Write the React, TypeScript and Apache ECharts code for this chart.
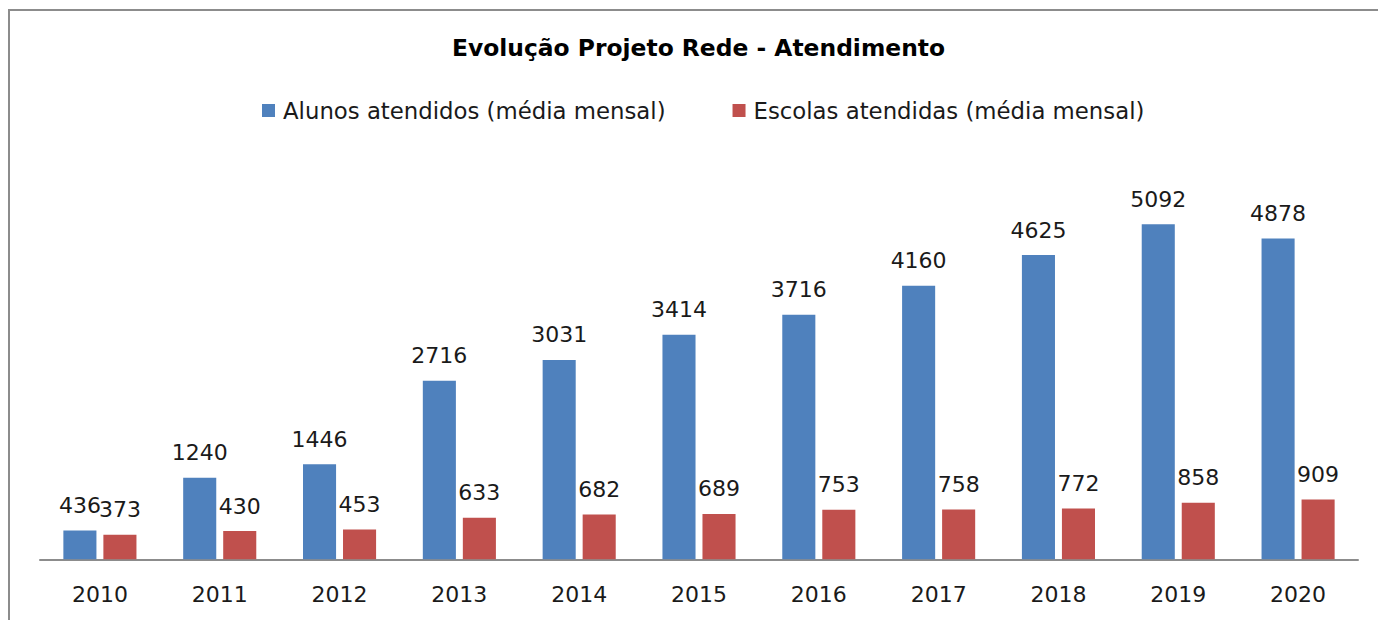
import React, { useEffect, useRef } from "react";
import * as echarts from "echarts";

const years = ["2010", "2011", "2012", "2013", "2014", "2015", "2016", "2017", "2018", "2019", "2020"];
const alunos = [436, 1240, 1446, 2716, 3031, 3414, 3716, 4160, 4625, 5092, 4878];
const escolas = [373, 430, 453, 633, 682, 689, 753, 758, 772, 858, 909];
const seriesNames = ["Alunos atendidos (média mensal)", "Escolas atendidas (média mensal)"];
const titleText = "Evolução Projeto Rede - Atendimento";

const FONT = "'DejaVu Sans', sans-serif";

export default function App() {
  const ref = useRef<HTMLDivElement>(null);
  useEffect(() => {
    if (!ref.current) return;
    const chart = echarts.init(ref.current, null, { renderer: "svg" });
    const labelStyle = {
      show: true,
      position: "top" as const,
      distance: 14,
      fontFamily: FONT,
      fontSize: 22,
      color: "#1a1a1a",
    };
    chart.setOption({
      animation: false,
      backgroundColor: "#ffffff",
      title: {
        text: titleText,
        left: 447,
        top: 31.5,
        textStyle: { fontFamily: FONT, fontWeight: "bold", fontSize: 23.4, color: "#000" },
      },
      legend: {
        top: 94,
        left: 257,
        itemWidth: 13,
        itemHeight: 13,
        itemGap: 67,
        icon: "rect",
        textStyle: { fontFamily: FONT, fontSize: 22.8, color: "#1a1a1a", padding: [0, 0, 0, 3] },
        data: seriesNames,
      },
      graphic: [
        {
          type: "rect",
          shape: { x: 9, y: 10, width: 1400, height: 700 },
          style: { fill: "none", stroke: "#8c8c8c", lineWidth: 2 },
          silent: true,
          z: 100,
        },
      ],
      grid: { left: 40, right: 20, top: 164.6, bottom: 60.7 },
      xAxis: {
        type: "category",
        data: years,
        axisLine: { show: true, lineStyle: { color: "#8c8c8c", width: 2 } },
        axisTick: { show: false },
        axisLabel: { fontFamily: FONT, fontSize: 22, color: "#1a1a1a", margin: 24 },
      },
      yAxis: {
        type: "value",
        min: 0,
        max: 6000,
        interval: 1000,
        show: false,
        splitLine: { show: false },
      },
      series: [
        {
          name: seriesNames[0],
          type: "bar",
          data: alunos,
          barGap: "21%",
          barCategoryGap: "39%",
          itemStyle: { color: "#4F81BD" },
          label: labelStyle,
        },
        {
          name: seriesNames[1],
          type: "bar",
          data: escolas,
          itemStyle: { color: "#C0504D" },
          label: labelStyle,
        },
      ],
    });
    return () => chart.dispose();
  }, []);
  return (
    <div
      ref={ref}
      style={{ position: "fixed", left: 0, top: 0, width: 1378, height: 620, background: "#fff" }}
    />
  );
}
